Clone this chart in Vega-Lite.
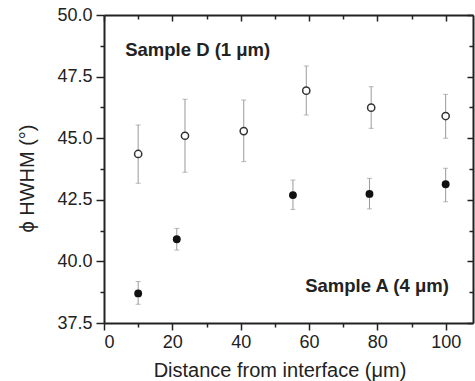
{
  "$schema": "https://vega.github.io/schema/vega-lite/v6.json",
  "width": 369,
  "height": 308,
  "autosize": {"type": "none"},
  "padding": {"left": 104, "top": 15, "right": 2, "bottom": 58},
  "background": "white",
  "config": {
    "view": {"stroke": null},
    "axis": {
      "labelFont": "Liberation Sans",
      "titleFont": "Liberation Sans",
      "labelFontSize": 18,
      "titleFontSize": 20,
      "titleFontWeight": "normal",
      "labelColor": "#222",
      "titleColor": "#222",
      "domainColor": "#222",
      "tickColor": "#222",
      "domainWidth": 2,
      "tickWidth": 1.5,
      "grid": false
    }
  },
  "datasets": {
    "pts": [
      {"sample": "D", "x": 10, "y": 44.36, "lo": 43.17, "hi": 45.54},
      {"sample": "D", "x": 23.7, "y": 45.10, "lo": 43.62, "hi": 46.58},
      {"sample": "D", "x": 40.9, "y": 45.29, "lo": 44.05, "hi": 46.55},
      {"sample": "D", "x": 59.2, "y": 46.93, "lo": 45.94, "hi": 47.93},
      {"sample": "D", "x": 78.2, "y": 46.24, "lo": 45.40, "hi": 47.09},
      {"sample": "D", "x": 100, "y": 45.90, "lo": 45.00, "hi": 46.78},
      {"sample": "A", "x": 10, "y": 38.70, "lo": 38.26, "hi": 39.18},
      {"sample": "A", "x": 21.3, "y": 40.90, "lo": 40.46, "hi": 41.34},
      {"sample": "A", "x": 55.3, "y": 42.69, "lo": 42.11, "hi": 43.30},
      {"sample": "A", "x": 77.7, "y": 42.74, "lo": 42.13, "hi": 43.37},
      {"sample": "A", "x": 100, "y": 43.13, "lo": 42.42, "hi": 43.78}
    ],
    "labels": [
      {"label": "Sample D (1 μm)", "x": 6.2, "y": 48.34},
      {"label": "Sample A (4 μm)", "x": 58.9, "y": 38.77}
    ]
  },
  "layer": [
    {
      "data": {"name": "pts"},
      "mark": {"type": "rule", "color": "#9a9a9a", "strokeWidth": 1},
      "encoding": {
        "x": {"field": "x", "type": "quantitative", "scale": {"domain": [0, 108], "nice": false},
              "axis": {"orient": "bottom", "values": [0, 20, 40, 60, 80, 100], "tickSize": 7, "labelPadding": 3,
                       "title": "Distance from interface (μm)", "titleAlign": "center", "titleBaseline": "alphabetic",
                       "titleX": 175.5, "titleY": 53}},
        "y": {"field": "lo", "type": "quantitative", "scale": {"domain": [37.5, 50], "nice": false, "zero": false},
              "axis": {"orient": "left", "values": [37.5, 40, 42.5, 45, 47.5, 50], "format": ".1f", "tickSize": 8, "labelPadding": 4,
                       "title": "ϕ HWHM (°)", "titleAngle": 270, "titleAlign": "center", "titleBaseline": "alphabetic",
                       "titleX": -71, "titleY": 163}},
        "y2": {"field": "hi"}
      }
    },
    {
      "data": {"name": "pts"},
      "mark": {"type": "tick", "orient": "horizontal", "color": "#9a9a9a", "size": 5, "thickness": 1},
      "encoding": {
        "x": {"field": "x", "type": "quantitative", "scale": {"domain": [0, 108], "nice": false},
              "axis": {"orient": "top", "values": [0, 20, 40, 60, 80, 100], "tickSize": -6, "labels": false, "title": null}},
        "y": {"field": "lo", "type": "quantitative", "scale": {"domain": [37.5, 50], "nice": false, "zero": false},
              "axis": {"orient": "right", "values": [37.5, 40, 42.5, 45, 47.5, 50], "tickSize": -6, "labels": false, "title": null}}
      }
    },
    {
      "data": {"name": "pts"},
      "mark": {"type": "tick", "orient": "horizontal", "color": "#9a9a9a", "size": 5, "thickness": 1},
      "encoding": {
        "x": {"field": "x", "type": "quantitative", "scale": {"domain": [0, 108], "nice": false},
              "axis": {"orient": "bottom", "values": [10, 30, 50, 70, 90], "tickSize": 4, "domain": false, "labels": false, "title": null}},
        "y": {"field": "hi", "type": "quantitative", "scale": {"domain": [37.5, 50], "nice": false, "zero": false},
              "axis": {"orient": "left", "values": [38.75, 41.25, 43.75, 46.25, 48.75], "tickSize": 4, "domain": false, "labels": false, "title": null}}
      }
    },
    {
      "data": {"name": "pts"},
      "transform": [{"filter": "datum.sample === 'D'"}],
      "mark": {"type": "point", "shape": "circle", "filled": false, "fill": "white", "stroke": "#333", "strokeWidth": 1.5, "size": 52, "opacity": 1},
      "encoding": {
        "x": {"field": "x", "type": "quantitative", "scale": {"domain": [0, 108], "nice": false},
              "axis": {"orient": "top", "values": [10, 30, 50, 70, 90], "tickSize": -4, "domain": false, "labels": false, "title": null}},
        "y": {"field": "y", "type": "quantitative", "scale": {"domain": [37.5, 50], "nice": false, "zero": false},
              "axis": {"orient": "right", "values": [38.75, 41.25, 43.75, 46.25, 48.75], "tickSize": -4, "domain": false, "labels": false, "title": null}}
      }
    },
    {
      "data": {"name": "pts"},
      "transform": [{"filter": "datum.sample === 'A'"}],
      "mark": {"type": "circle", "color": "#111", "size": 62, "opacity": 1},
      "encoding": {
        "x": {"field": "x", "type": "quantitative", "scale": {"domain": [0, 108], "nice": false}, "axis": null},
        "y": {"field": "y", "type": "quantitative", "scale": {"domain": [37.5, 50], "nice": false, "zero": false}, "axis": null}
      }
    },
    {
      "data": {"name": "labels"},
      "mark": {"type": "text", "align": "left", "baseline": "alphabetic", "font": "Liberation Sans", "fontWeight": "bold", "fontSize": 18.5, "color": "#222"},
      "encoding": {
        "x": {"field": "x", "type": "quantitative", "scale": {"domain": [0, 108], "nice": false}, "axis": null},
        "y": {"field": "y", "type": "quantitative", "scale": {"domain": [37.5, 50], "nice": false, "zero": false}, "axis": null},
        "text": {"field": "label"}
      }
    }
  ],
  "resolve": {"axis": {"x": "independent", "y": "independent"}}
}
